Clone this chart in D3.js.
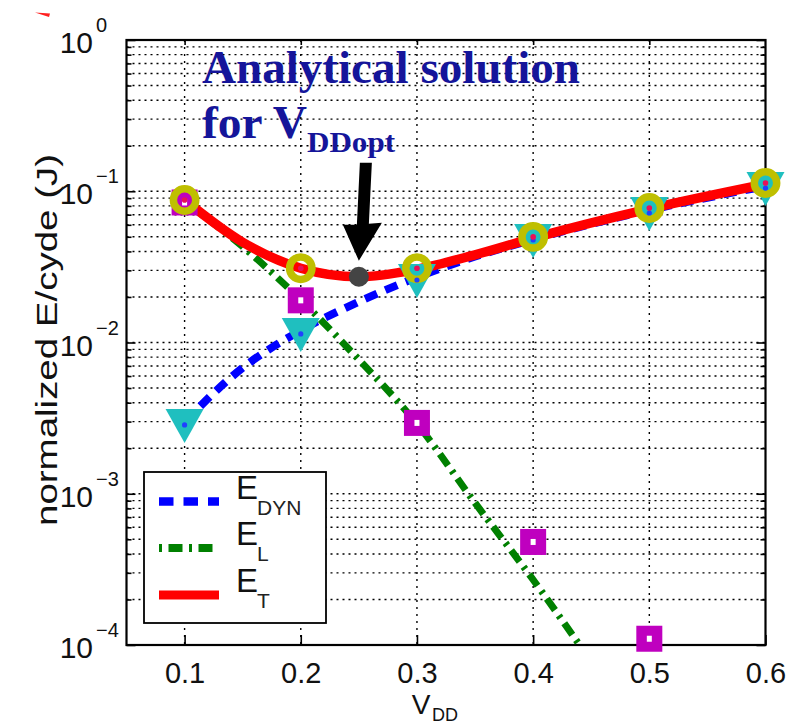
<!DOCTYPE html>
<html>
<head>
<meta charset="utf-8">
<script src="https://cdn.jsdelivr.net/npm/d3@7"></script>
<style>
  html, body { margin: 0; padding: 0; background: #fff; }
  svg { display: block; }
</style>
</head>
<body>
<svg id="chart" width="800" height="726"></svg>
<script>
// ---------------- data ----------------
const vdd = [0.1, 0.2, 0.3, 0.4, 0.5, 0.6];
const xTickLabels = ["0.1", "0.2", "0.3", "0.4", "0.5", "0.6"];
const yTickExps = [0, -1, -2, -3, -4];

// simulated points (markers)
const eDynSim = [0.00285, 0.0114, 0.0259, 0.0476, 0.0718, 0.105];
const eLSimV = [0.1, 0.2, 0.3, 0.4, 0.5];
const eLSim = [0.0843, 0.019, 0.00294, 0.00048, 0.00011];
const eTSim = [0.0875, 0.031, 0.031, 0.0499, 0.0775, 0.1134];

// analytical model curves
const vModel = [0.1, 0.15, 0.2, 0.25, 0.3, 0.35, 0.4, 0.5, 0.6];
const eDynModel = [0.003, 0.0068, 0.012, 0.0186, 0.027, 0.037, 0.048, 0.075, 0.108];
const eTModel = [0.0875, 0.046, 0.031, 0.0272, 0.0305, 0.038, 0.049, 0.0765, 0.1115];
const vLModel = [0.1, 0.15, 0.2, 0.25, 0.3, 0.35, 0.4, 0.44];
const eLModel = [0.085, 0.043, 0.0191, 0.0077, 0.0029, 0.00087, 0.00027, 0.0001];

// optimum point
const vOpt = 0.25, eOpt = 0.0272;

const legendNames = [["E", "DYN"], ["E", "L"], ["E", "T"]];

// ---------------- setup ----------------
const svg = d3.select("#chart");
svg.append("rect").attr("width", 800).attr("height", 726).attr("fill", "#fff");

const x = d3.scaleLinear().domain([0.05, 0.6]).range([126.5, 765.5]);
const y = d3.scaleLog().domain([1e-4, 1]).range([645, 40]);
const [X0, X1] = x.range();
const [Y0, Y1] = [y(1), y(1e-4)];

svg.append("defs").append("clipPath").attr("id", "clip")
  .append("rect").attr("x", X0).attr("y", Y0).attr("width", X1 - X0).attr("height", Y1 - Y0);

// small red artifact at top-left
svg.append("path").attr("d", "M35,12.5 L50,13.5 L49,17 Z").attr("fill", "#ff2020");

// ---------------- grid ----------------
const yAll = y.ticks().filter(v => v < 0.999 && v > 1.0001e-4);
const grid = svg.append("g");
grid.selectAll("line.h").data(yAll).join("line")
  .attr("x1", X0).attr("x2", X1)
  .attr("y1", d => y(d)).attr("y2", d => y(d))
  .attr("stroke", "#000").attr("stroke-width", 1.4).attr("stroke-dasharray", "2,4");
grid.selectAll("line.v").data(vdd.slice(0, 5)).join("line")
  .attr("x1", d => x(d)).attr("x2", d => x(d))
  .attr("y1", Y0).attr("y2", Y1)
  .attr("stroke", "#000").attr("stroke-width", 1.4).attr("stroke-dasharray", "2,5");

// ---------------- axes ----------------
const isMajor = v => Math.abs(Math.log10(v) - Math.round(Math.log10(v))) < 1e-6;
const xAxis = d3.axisBottom(x).tickValues(vdd).tickFormat((d, i) => xTickLabels[i])
  .tickSizeInner(-10).tickSizeOuter(0).tickPadding(17);
const gx = svg.append("g").attr("transform", `translate(0,${Y1})`).call(xAxis);
gx.select(".domain").remove();
gx.selectAll("line").attr("stroke", "#000").attr("stroke-width", 1.6);
gx.selectAll("text").attr("font-family", "Liberation Sans, Arial, sans-serif")
  .attr("font-size", 29).attr("fill", "#111");

const xTop = d3.axisTop(x).tickValues(vdd.slice(0, 5)).tickFormat("").tickSizeInner(-5).tickSizeOuter(0);
const gxt = svg.append("g").attr("transform", `translate(0,${Y0})`).call(xTop);
gxt.select(".domain").remove();
gxt.selectAll("line").attr("stroke", "#000").attr("stroke-width", 1.6);

const yTicksAll = y.ticks();
function yTickAxis(gen, xPos) {
  const g = svg.append("g").attr("transform", `translate(${xPos},0)`)
    .call(gen(y).tickValues(yTicksAll).tickFormat("").tickSizeOuter(0));
  g.select(".domain").remove();
  g.selectAll(".tick line").attr("stroke", "#000").attr("stroke-width", 1.6)
    .attr("x2", d => (gen === d3.axisLeft ? 1 : -1) * (isMajor(d) ? 9 : 5));
}
yTickAxis(d3.axisLeft, X0);
yTickAxis(d3.axisRight, X1);

// y tick labels 10^k
const yl = svg.append("g").attr("font-family", "Liberation Sans, Arial, sans-serif").attr("fill", "#111");
yl.selectAll("text.base").data(yTickExps).join("text")
  .attr("x", 93).attr("y", d => y(Math.pow(10, d)) + 13)
  .attr("text-anchor", "end").attr("font-size", 30).text("10");
yl.selectAll("text.sup").data(yTickExps).join("text")
  .attr("x", 96).attr("y", d => y(Math.pow(10, d)) - 8)
  .attr("font-size", 20).text(d => d === 0 ? "0" : "\u2212" + (-d));

// frame
svg.append("rect").attr("x", X0).attr("y", Y0).attr("width", X1 - X0).attr("height", Y1 - Y0)
  .attr("fill", "none").attr("stroke", "#000").attr("stroke-width", 2.2);

// axis titles
svg.append("text")
  .attr("transform", `translate(57,340) rotate(-90)`)
  .attr("text-anchor", "middle")
  .attr("font-family", "Liberation Sans, Arial, sans-serif").attr("font-size", 29)
  .attr("fill", "#111")
  .attr("textLength", 372).attr("lengthAdjust", "spacingAndGlyphs")
  .text("normalized E/cyde (J)");
const xt = svg.append("g").attr("font-family", "Liberation Sans, Arial, sans-serif").attr("fill", "#111");
xt.append("text").attr("x", 421).attr("y", 714).attr("text-anchor", "middle").attr("font-size", 28).text("V");
xt.append("text").attr("x", 432).attr("y", 721).attr("font-size", 18).text("DD");

// ---------------- lines ----------------
const line = d3.line().x(d => x(d[0])).y(d => y(d[1])).curve(d3.curveMonotoneX);
const plot = svg.append("g").attr("clip-path", "url(#clip)");
plot.append("path").datum(vLModel.map((v, i) => [v, eLModel[i]]))
  .attr("d", line).attr("fill", "none").attr("stroke", "#008000")
  .attr("stroke-width", 7).attr("stroke-dasharray", "14,6.5,3,6.5");
plot.append("path").datum(vModel.map((v, i) => [v, eDynModel[i]]))
  .attr("d", line).attr("fill", "none").attr("stroke", "#0000ff")
  .attr("stroke-width", 8).attr("stroke-dasharray", "13,9");
plot.append("path").datum(vModel.map((v, i) => [v, eTModel[i]]))
  .attr("d", line).attr("fill", "none").attr("stroke", "#ff0000")
  .attr("stroke-width", 9.5).attr("stroke-linejoin", "round");

// ---------------- markers ----------------
const mk = svg.append("g");
// squares (E_L)
mk.selectAll("rect.sq").data(eLSimV.map((v, i) => [v, eLSim[i]])).join("rect")
  .attr("x", d => x(d[0]) - 13).attr("y", d => y(d[1]) - 13)
  .attr("width", 26).attr("height", 26).attr("fill", "#bf00bf");
// triangles (E_DYN)
mk.selectAll("path.tri").data(vdd.map((v, i) => [v, eDynSim[i]])).join("path")
  .attr("d", d => {
    const cx = x(d[0]), cy = y(d[1]);
    return `M${cx - 19},${cy - 16} L${cx + 19},${cy - 16} L${cx},${cy + 18} Z`;
  })
  .attr("fill", "#1fbfbf");
// circles (E_T)
mk.selectAll("circle.ring").data(vdd.map((v, i) => [v, eTSim[i]])).join("circle")
  .attr("cx", d => x(d[0])).attr("cy", d => y(d[1])).attr("r", 11.2)
  .attr("fill", "none").attr("stroke", "#bfbf00").attr("stroke-width", 7.5);
// center dots
mk.selectAll("rect.sqc").data(eLSimV.map((v, i) => [v, eLSim[i]])).join("rect")
  .attr("x", d => x(d[0]) - 2.5).attr("y", d => y(d[1]) - 3)
  .attr("width", 5).attr("height", 6).attr("fill", "#fff");
mk.selectAll("circle.tc").data(vdd.map((v, i) => [v, eDynSim[i]])).join("circle")
  .attr("cx", d => x(d[0])).attr("cy", d => y(d[1])).attr("r", 2.6).attr("fill", "#2040ff");
mk.selectAll("circle.cc").data(vdd.map((v, i) => [v, eTSim[i]])).join("circle")
  .attr("cx", d => x(d[0])).attr("cy", d => y(d[1])).attr("r", 2.8).attr("fill", "#e8105a");

// optimum
mk.append("circle").attr("cx", x(vOpt)).attr("cy", y(eOpt)).attr("r", 10).attr("fill", "#444");

// arrow
const tipX = x(vOpt), tipY = y(eOpt) - 16;
svg.append("path")
  .attr("d", `M${tipX + 1},${tipY - 98} L${tipX + 13},${tipY - 98} L${tipX + 10},${tipY - 37} ` +
             `L${tipX + 23},${tipY - 38} L${tipX},${tipY} L${tipX - 16},${tipY - 36} ` +
             `L${tipX - 2},${tipY - 36} Z`)
  .attr("fill", "#000");

// annotation text
const ann = svg.append("g").attr("font-family", "Liberation Serif, Times New Roman, serif")
  .attr("font-weight", "bold").attr("fill", "#15159a");
ann.append("text").attr("x", 202).attr("y", 83).attr("font-size", 46)
  .attr("textLength", 378).attr("lengthAdjust", "spacingAndGlyphs").text("Analytical solution");
ann.append("text").attr("x", 202).attr("y", 138).attr("font-size", 46)
  .attr("textLength", 105).attr("lengthAdjust", "spacingAndGlyphs").text("for V");
ann.append("text").attr("x", 307).attr("y", 152).attr("font-size", 29)
  .attr("textLength", 88).attr("lengthAdjust", "spacingAndGlyphs").text("DDopt");

// ---------------- legend ----------------
const lg = svg.append("g");
lg.append("rect").attr("x", 144).attr("y", 472).attr("width", 182).attr("height", 151)
  .attr("fill", "#fff").attr("stroke", "#000").attr("stroke-width", 1.8);
const legendStyles = [
  { color: "#0000ff", dash: "14.5,10", offset: 0, w: 8.5 },
  { color: "#008000", dash: "14,6.5,3,6.5", offset: 20.5, w: 8 },
  { color: "#ff0000", dash: null, offset: 0, w: 9 }
];
const legendY = [501.5, 548, 595];
legendNames.forEach((nm, i) => {
  const st = legendStyles[i];
  const ln = lg.append("line").attr("x1", 159).attr("x2", 219)
    .attr("y1", legendY[i]).attr("y2", legendY[i])
    .attr("stroke", st.color).attr("stroke-width", st.w);
  if (st.dash) ln.attr("stroke-dasharray", st.dash).attr("stroke-dashoffset", st.offset);
  lg.append("text").attr("x", 236).attr("y", legendY[i] - 3)
    .attr("font-family", "Liberation Sans, Arial, sans-serif").attr("font-size", 33)
    .attr("fill", "#111").text(nm[0]);
  lg.append("text").attr("x", 257).attr("y", legendY[i] + 13)
    .attr("font-family", "Liberation Sans, Arial, sans-serif").attr("font-size", 21)
    .attr("fill", "#222").text(nm[1]);
});
</script>
</body>
</html>
